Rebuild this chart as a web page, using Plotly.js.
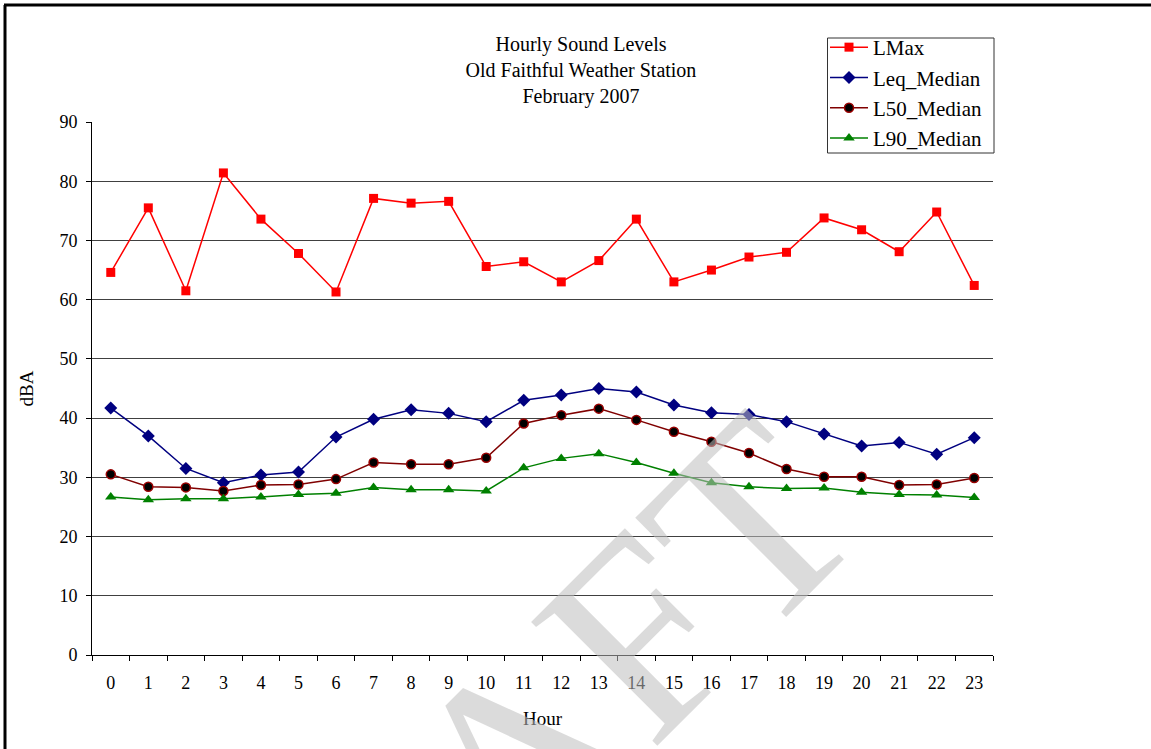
<!DOCTYPE html>
<html>
<head>
<meta charset="utf-8">
<script src="https://cdn.plot.ly/plotly-3.0.1.min.js"></script>
<style>
  html, body { margin: 0; padding: 0; background: #fff; }
  #chart { width: 1151px; height: 749px; }
</style>
</head>
<body>
<div id="chart"></div>
<script>
const hours = [0,1,2,3,4,5,6,7,8,9,10,11,12,13,14,15,16,17,18,19,20,21,22,23];
const lmax = [64.6,75.5,61.5,81.4,73.6,67.8,61.3,77.1,76.3,76.6,65.6,66.4,63.0,66.6,73.6,63.0,65.0,67.2,68.0,73.8,71.8,68.1,74.8,62.4];
const leqMedian = [41.7,37.0,31.5,29.1,30.4,30.9,36.8,39.8,41.4,40.8,39.4,43.0,43.9,45.0,44.4,42.2,40.9,40.6,39.4,37.3,35.3,35.9,33.9,36.7];
const l50Median = [30.5,28.4,28.3,27.7,28.7,28.8,29.7,32.5,32.2,32.2,33.3,39.1,40.5,41.6,39.7,37.7,36.0,34.1,31.4,30.1,30.1,28.7,28.8,29.9];
const l90Median = [26.7,26.2,26.4,26.4,26.7,27.1,27.3,28.3,27.9,27.9,27.7,31.6,33.2,34.0,32.5,30.7,29.1,28.4,28.1,28.2,27.5,27.1,27.0,26.6];
const seriesNames = ['LMax','Leq_Median','L50_Median','L90_Median'];
const titleLines = ['Hourly Sound Levels','Old Faithful Weather Station','February 2007'];

const serif = '"Liberation Serif", "Times New Roman", serif';

const traces = [
  {x: hours, y: lmax, name: seriesNames[0], type: 'scatter', mode: 'lines+markers',
   line: {color: '#FF0000', width: 1.5},
   marker: {symbol: 'square', size: 9, color: '#FF0000'}},
  {x: hours, y: leqMedian, name: seriesNames[1], type: 'scatter', mode: 'lines+markers',
   line: {color: '#000080', width: 1.5},
   marker: {symbol: 'diamond', size: 10, color: '#000080'}},
  {x: hours, y: l50Median, name: seriesNames[2], type: 'scatter', mode: 'lines+markers',
   line: {color: '#800000', width: 1.5},
   marker: {symbol: 'circle', size: 9, color: '#000000', line: {color: '#990000', width: 1.5}}},
  {x: hours, y: l90Median, name: seriesNames[3], type: 'scatter', mode: 'lines+markers',
   line: {color: '#008000', width: 1.5},
   marker: {symbol: 'triangle-up', size: 10, color: '#008000'}}
];

const L = 92, R = 993, T = 122, B = 655, W = 1151, H = 749;
const px = v => (v - L) / (R - L);
const py = v => (B - v) / (B - T);

const layout = {
  width: W, height: H,
  margin: {l: L, r: W - R, t: T, b: H - B, pad: 0},
  paper_bgcolor: '#ffffff', plot_bgcolor: '#ffffff',
  font: {family: serif, size: 18, color: '#000'},
  title: {text: titleLines.join('<br>'), font: {family: serif, size: 20, color: '#000'},
          x: 581 / W, xanchor: 'center', xref: 'container', y: 1 - 51 / H, yanchor: 'top', yref: 'container'},
  xaxis: {
    type: 'category', range: [-0.5, 23.5], tickson: 'boundaries',
    ticks: 'outside', ticklen: 5, tickwidth: 1, tickcolor: '#000',
    showline: true, linecolor: '#000', linewidth: 1, showgrid: false, zeroline: false,
    tickfont: {family: serif, size: 18, color: '#000'}, ticklabelstandoff: 11,
    title: {text: 'Hour', font: {family: serif, size: 19, color: '#000'}, standoff: 20},
    fixedrange: true
  },
  yaxis: {
    range: [0, 90], dtick: 10, tick0: 0,
    ticks: 'outside', ticklen: 5, tickwidth: 1, tickcolor: '#000',
    showline: true, linecolor: '#000', linewidth: 1,
    showgrid: true, gridcolor: '#404040', gridwidth: 1, zeroline: false,
    tickfont: {family: serif, size: 18, color: '#000'}, ticklabelstandoff: 5,
    title: {text: 'dBA', font: {family: serif, size: 19, color: '#000'}, standoff: 20},
    fixedrange: true
  },
  legend: {
    x: px(825), y: py(27), xanchor: 'left', yanchor: 'top',
    bgcolor: 'rgba(0,0,0,0)', borderwidth: 0,
    font: {family: serif, size: 21, color: '#000'},
    itemwidth: 38, tracegroupgap: 0
  },
  showlegend: true,
  shapes: [
    {type: 'rect', xref: 'paper', yref: 'paper', x0: px(827.5), x1: px(994), y0: py(38), y1: py(153),
     line: {color: '#333333', width: 1}, fillcolor: 'rgba(0,0,0,0)', layer: 'above'},
    {type: 'line', xref: 'paper', yref: 'paper', x0: px(5), x1: px(5), y0: py(5), y1: py(760),
     line: {color: '#000', width: 3}},
    {type: 'line', xref: 'paper', yref: 'paper', x0: px(4), x1: px(1160), y0: py(5), y1: py(5),
     line: {color: '#000', width: 3}}
  ],
  annotations: [
    {text: 'DRAFT', xref: 'paper', yref: 'paper', x: px(495), y: py(778),
     xanchor: 'center', yanchor: 'middle', showarrow: false, textangle: -45,
     font: {family: serif, size: 270, color: 'rgba(190,190,190,0.55)'}}
  ]
};

Plotly.newPlot('chart', traces, layout, {displayModeBar: false, staticPlot: true});
</script>
</body>
</html>
